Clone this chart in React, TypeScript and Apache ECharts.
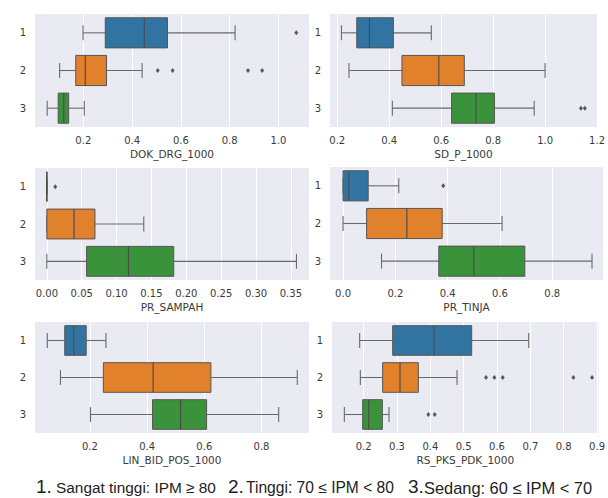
import React, { useEffect, useRef } from "react";
import * as echarts from "echarts";

const CATEGORIES = ["1", "2", "3"];
const COLORS = ["#3274a1", "#e1812c", "#3a923a"];

// Box stats per group: [whiskerLow, Q1, median, Q3, whiskerHigh]
const DOK_DRG_BOX = [
  [0.199, 0.29, 0.45, 0.545, 0.822],
  [0.103, 0.169, 0.208, 0.295, 0.441],
  [0.052, 0.097, 0.12, 0.14, 0.204],
];
// Outliers: [groupIndex, value]
const DOK_DRG_OUT = [[0, 1.073], [1, 0.505], [1, 0.566], [1, 0.875], [1, 0.933]];
const DOK_DRG_TICKS = [0.2, 0.4, 0.6, 0.8, 1.0];

const SD_P_BOX = [
  [0.216, 0.275, 0.324, 0.416, 0.562],
  [0.245, 0.449, 0.591, 0.689, 1.0],
  [0.412, 0.64, 0.734, 0.805, 0.958],
];
const SD_P_OUT = [[2, 1.138], [2, 1.153]];
const SD_P_TICKS = [0.2, 0.4, 0.6, 0.8, 1.0, 1.2];

const PR_SAMPAH_BOX = [
  [0, 0, 0, 0, 0],
  [0, 0, 0.039, 0.069, 0.139],
  [0, 0.057, 0.117, 0.182, 0.358],
];
const PR_SAMPAH_OUT = [[0, 0.012]];
const PR_SAMPAH_TICKS = [0, 0.05, 0.1, 0.15, 0.2, 0.25, 0.3, 0.35];

const PR_TINJA_BOX = [
  [0, 0, 0.022, 0.096, 0.213],
  [0, 0.09, 0.244, 0.379, 0.608],
  [0.147, 0.366, 0.5, 0.695, 0.952],
];
const PR_TINJA_OUT = [[0, 0.383]];
const PR_TINJA_TICKS = [0, 0.2, 0.4, 0.6, 0.8];

const LIN_BID_BOX = [
  [0.051, 0.112, 0.144, 0.187, 0.256],
  [0.097, 0.247, 0.421, 0.623, 0.925],
  [0.202, 0.419, 0.517, 0.608, 0.86],
];
const LIN_BID_OUT: number[][] = [];
const LIN_BID_TICKS = [0.2, 0.4, 0.6, 0.8];

const RS_PKS_BOX = [
  [0.188, 0.287, 0.411, 0.524, 0.695],
  [0.19, 0.257, 0.309, 0.364, 0.48],
  [0.142, 0.197, 0.215, 0.256, 0.276],
];
const RS_PKS_OUT = [
  [1, 0.567], [1, 0.592], [1, 0.617], [1, 0.829], [1, 0.885],
  [2, 0.394], [2, 0.413],
];
const RS_PKS_TICKS = [0.2, 0.3, 0.4, 0.5, 0.6, 0.7, 0.8, 0.9];

const LEGEND_NUMS = ["1.", "2.", "3."];
const LEGEND_TEXTS = ["Sangat tinggi: IPM \u2265 80", "Tinggi: 70 \u2264 IPM < 80", "Sedang: 60 \u2264 IPM < 70"];

const PANELS = [
  { name: "DOK_DRG_1000", box: DOK_DRG_BOX, out: DOK_DRG_OUT, ticks: DOK_DRG_TICKS, dec: 1, min: 0.002, max: 1.125, grid: { left: 35, top: 14, width: 274, height: 113 } },
  { name: "SD_P_1000", box: SD_P_BOX, out: SD_P_OUT, ticks: SD_P_TICKS, dec: 1, min: 0.172, max: 1.2, grid: { left: 330, top: 14, width: 272, height: 113 } },
  { name: "PR_SAMPAH", box: PR_SAMPAH_BOX, out: PR_SAMPAH_OUT, ticks: PR_SAMPAH_TICKS, dec: 2, min: -0.017, max: 0.376, grid: { left: 35, top: 168, width: 274, height: 112 } },
  { name: "PR_TINJA", box: PR_TINJA_BOX, out: PR_TINJA_OUT, ticks: PR_TINJA_TICKS, dec: 1, min: -0.05, max: 0.994, grid: { left: 330, top: 167, width: 273, height: 113 } },
  { name: "LIN_BID_POS_1000", box: LIN_BID_BOX, out: LIN_BID_OUT, ticks: LIN_BID_TICKS, dec: 1, min: 0.008, max: 0.966, grid: { left: 35, top: 322, width: 274, height: 111 } },
  { name: "RS_PKS_PDK_1000", box: RS_PKS_BOX, out: RS_PKS_OUT, ticks: RS_PKS_TICKS, dec: 1, min: 0.105, max: 0.905, grid: { left: 332, top: 322, width: 270, height: 111 } },
];

const FONT = "DejaVu Sans";
const TEXT_COLOR = "#3a3a3a";

function renderBox(params: any, api: any) {
  const cat = api.value(0);
  const lo = api.value(1);
  const q1 = api.value(2);
  const med = api.value(3);
  const q3 = api.value(4);
  const hi = api.value(5);
  const y = api.coord([q1, cat])[1];
  const band = api.size([0, 1])[1];
  const h = band * 0.8;
  const xLo = api.coord([lo, cat])[0];
  const xQ1 = api.coord([q1, cat])[0];
  const xMed = api.coord([med, cat])[0];
  const xQ3 = api.coord([q3, cat])[0];
  const xHi = api.coord([hi, cat])[0];
  const wStyle = { stroke: "#6a6a6a", lineWidth: 1.1 };
  return {
    type: "group",
    children: [
      { type: "line", shape: { x1: xLo, y1: y, x2: xQ1, y2: y }, style: wStyle },
      { type: "line", shape: { x1: xQ3, y1: y, x2: xHi, y2: y }, style: wStyle },
      { type: "line", shape: { x1: xLo, y1: y - h / 4, x2: xLo, y2: y + h / 4 }, style: wStyle },
      { type: "line", shape: { x1: xHi, y1: y - h / 4, x2: xHi, y2: y + h / 4 }, style: wStyle },
      {
        type: "rect",
        shape: { x: xQ1, y: y - h / 2, width: xQ3 - xQ1, height: h },
        style: { fill: COLORS[cat], stroke: "#555555", lineWidth: 1 },
      },
      { type: "line", shape: { x1: xMed, y1: y - h / 2, x2: xMed, y2: y + h / 2 }, style: { stroke: "#4a4a4a", lineWidth: 1.1 } },
    ],
  };
}

export default function App() {
  const ref = useRef<HTMLDivElement>(null);
  useEffect(() => {
    if (!ref.current) return;
    const chart = echarts.init(ref.current, undefined, { renderer: "svg" });
    const grids = PANELS.map((p) => ({ ...p.grid, show: true, backgroundColor: "#eaeaf2", borderWidth: 0 }));
    const xAxes = PANELS.map((p, i) => ({
      type: "value",
      gridIndex: i,
      min: p.min,
      max: p.max,
      name: p.name,
      nameLocation: "middle",
      nameGap: 21,
      nameTextStyle: { fontFamily: FONT, fontSize: 10.5, color: TEXT_COLOR },
      axisLine: { show: false },
      axisTick: { show: false, customValues: p.ticks },
      axisLabel: {
        customValues: p.ticks,
        fontFamily: FONT,
        fontSize: 10,
        color: TEXT_COLOR,
        margin: 8,
        formatter: (v: number) => v.toFixed(p.dec),
      },
      splitLine: { show: true, lineStyle: { color: "#ffffff", width: 1 } },
    }));
    const yAxes = PANELS.map((p, i) => ({
      type: "category",
      gridIndex: i,
      data: CATEGORIES,
      inverse: true,
      axisLine: { show: false },
      axisTick: { show: false },
      splitLine: { show: false },
      axisLabel: { fontFamily: FONT, fontSize: 10, color: TEXT_COLOR, margin: 9 },
    }));
    const series: any[] = [];
    PANELS.forEach((p, i) => {
      series.push({
        type: "custom",
        xAxisIndex: i,
        yAxisIndex: i,
        renderItem: renderBox,
        encode: { x: [1, 2, 3, 4, 5], y: 0 },
        data: p.box.map((b, g) => [g, ...b]),
        z: 2,
      });
      series.push({
        type: "scatter",
        xAxisIndex: i,
        yAxisIndex: i,
        symbol: "diamond",
        symbolSize: [4, 5],
        itemStyle: { color: "#333333" },
        data: p.out.map((o) => [o[1], o[0]]),
        z: 3,
      });
    });
    const numX = [36, 228, 408];
    const textX = [56, 246, 424];
    const textSize = [15.4, 15.6, 16.4];
    const graphic: any[] = [];
    LEGEND_NUMS.forEach((n, i) => {
      graphic.push({
        type: "text",
        x: numX[i],
        y: 486.5,
        style: { text: n, font: '19px "Liberation Sans"', fill: "#222", verticalAlign: "middle" },
      });
      graphic.push({
        type: "text",
        x: textX[i],
        y: 487.5,
        style: { text: LEGEND_TEXTS[i], font: `${textSize[i]}px "Liberation Sans"`, fill: "#222", verticalAlign: "middle" },
      });
    });
    chart.setOption({
      animation: false,
      backgroundColor: "#ffffff",
      grid: grids,
      xAxis: xAxes,
      yAxis: yAxes,
      series,
      graphic,
    });
    return () => chart.dispose();
  }, []);
  return <div ref={ref} style={{ position: "absolute", left: 0, top: 0, width: 608, height: 498 }} />;
}
